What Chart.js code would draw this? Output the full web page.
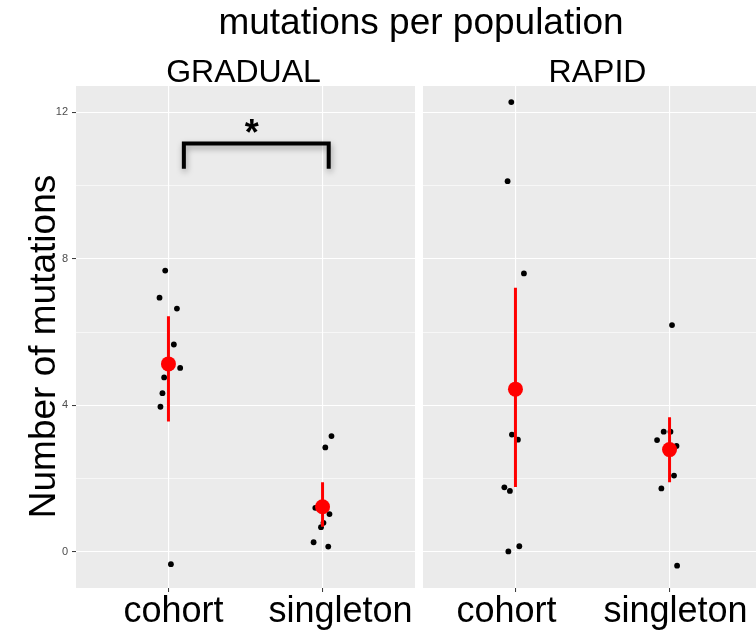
<!DOCTYPE html>
<html>
<head>
<meta charset="utf-8">
<script src="https://cdn.jsdelivr.net/npm/chart.js@4.4.1/dist/chart.umd.min.js"></script>
<style>
  html, body { margin: 0; padding: 0; background: #ffffff; overflow: hidden; }
  #wrap { position: relative; width: 756px; height: 632px; overflow: hidden; }
  #wrap canvas { position: absolute; left: 0; top: 0; }
</style>
</head>
<body>
<div id="wrap">
  <canvas id="gradual" width="780" height="632"></canvas>
  <canvas id="rapid" width="780" height="632"></canvas>
</div>
<script>
// ---- data -------------------------------------------------------------
const categories = ['cohort', 'singleton'];
const panelNames = ['GRADUAL', 'RAPID'];
const chartTitle = 'mutations per population';
const yTitle = 'Number of mutations';
const yTickValues = [0, 2, 4, 6, 8, 10, 12];

// per-population mutation counts, as plotted (with jitter)
const gradualCohortY      = [7.68, 6.94, 6.64, 5.66, 5.02, 4.76, 4.33, 3.96, -0.34];
const gradualCohortJit    = [-0.021, -0.058, 0.055, 0.035, 0.076, -0.028, -0.039, -0.052, 0.016];
const gradualSingletonY   = [3.16, 2.85, 1.20, 1.03, 0.79, 0.67, 0.26, 0.14];
const gradualSingletonJit = [0.058, 0.018, -0.047, 0.045, 0.006, -0.010, -0.058, 0.037];
const rapidCohortY        = [12.28, 10.12, 7.60, 3.20, 3.06, 1.76, 1.66, 0.15, 0.01];
const rapidCohortJit      = [-0.027, -0.051, 0.055, -0.023, 0.016, -0.072, -0.036, 0.025, -0.046];
const rapidSingletonY     = [6.19, 3.28, 3.28, 3.05, 2.89, 2.08, 1.73, -0.38];
const rapidSingletonJit   = [0.016, -0.038, 0.006, -0.081, 0.045, 0.029, -0.053, 0.049];

// group means with interval ends (cohort, singleton)
const gradualMean = [5.13, 1.23];
const gradualLow  = [3.56, 0.68];
const gradualHigh = [6.43, 1.90];
const rapidMean   = [4.44, 2.79];
const rapidLow    = [1.77, 1.90];
const rapidHigh   = [7.21, 3.67];

// significance bracket between the GRADUAL groups
const bracketX = [1.10, 1.10, 2.04, 2.04];
const bracketY = [10.46, 11.15, 11.15, 10.46];
const starLabel = { x: 1.54, y: 11.15, text: '*' };

// ---- helpers ----------------------------------------------------------
const FONT = "'Liberation Sans', Arial, Helvetica, sans-serif";
const Y_MIN = -0.99, Y_MAX = 12.72;

function pointsFor(groups) {
  const out = [];
  groups.forEach((g, ci) => {
    g.y.forEach((v, i) => out.push({ x: ci + 1 + g.jit[i], y: v }));
  });
  return out;
}
function intervalSegments(low, high) {
  const out = [];
  low.forEach((lo, i) => {
    out.push({ x: i + 1, y: lo }, { x: i + 1, y: high[i] }, { x: i + 1.5, y: null });
  });
  return out;
}
function meanPoints(mean) {
  return mean.map((m, i) => ({ x: i + 1, y: m }));
}

const panelBg = {
  id: 'panelBg',
  beforeDraw(chart) {
    const { ctx, chartArea: a } = chart;
    ctx.save();
    ctx.fillStyle = '#EBEBEB';
    ctx.fillRect(a.left, a.top, a.right - a.left, a.bottom - a.top);
    ctx.restore();
  }
};

const bracketShadow = {
  id: 'bracketShadow',
  beforeDatasetDraw(chart, args) {
    if (chart.data.datasets[args.index].isBracket) {
      const ctx = chart.ctx;
      ctx.save();
      ctx.shadowColor = 'rgba(0,0,0,0.35)';
      ctx.shadowBlur = 6;
      ctx.shadowOffsetX = 1;
      ctx.shadowOffsetY = 3;
    }
  },
  afterDatasetDraw(chart, args) {
    if (chart.data.datasets[args.index].isBracket) chart.ctx.restore();
  }
};

// strip labels, overall title, axis titles/labels and the significance star
const texts = {
  id: 'texts',
  afterDraw(chart, args, opts) {
    const { ctx, chartArea: a } = chart;
    const xs = chart.scales.x, ys = chart.scales.y;
    ctx.save();
    ctx.fillStyle = '#000';
    ctx.textAlign = 'center';
    ctx.textBaseline = 'alphabetic';
    ctx.font = '32px ' + FONT;
    ctx.fillText(opts.strip, (a.left + a.right) / 2 + opts.stripShift, 82);
    if (opts.title) {
      ctx.font = '37px ' + FONT;
      ctx.fillText(opts.title, 421, 34);
    }
    if (opts.yTitle) {
      ctx.save();
      ctx.translate(55, 346.5);
      ctx.rotate(-Math.PI / 2);
      ctx.font = '37px ' + FONT;
      ctx.fillText(opts.yTitle, 0, 0);
      ctx.restore();
    }
    // category labels under the x ticks
    ctx.font = '36px ' + FONT;
    xs.ticks.forEach((t, i) => {
      ctx.fillText(categories[i], xs.getPixelForValue(t.value) + opts.labelNudge[i], 621.5);
    });
    if (opts.star) {
      ctx.font = 'bold 36px ' + FONT;
      ctx.fillText(opts.star.text, xs.getPixelForValue(opts.star.x), ys.getPixelForValue(opts.star.y) + 2);
    }
    ctx.restore();
  }
};

function makePanel(id, cfg) {
  const datasets = [];
  if (cfg.bracket) {
    datasets.push({
      type: 'line', isBracket: true,
      data: cfg.bracket.x.map((x, i) => ({ x, y: cfg.bracket.y[i] })),
      borderColor: '#000', borderWidth: 4, pointRadius: 0,
      borderCapStyle: 'butt', borderJoinStyle: 'miter', tension: 0, fill: false
    });
  }
  datasets.push({
    type: 'scatter', data: meanPoints(cfg.mean),
    pointRadius: 7.5, pointBackgroundColor: '#FF0000', pointBorderWidth: 0, borderColor: '#FF0000'
  });
  datasets.push({
    type: 'line', data: intervalSegments(cfg.low, cfg.high),
    borderColor: '#FF0000', borderWidth: 3, pointRadius: 0, spanGaps: false,
    borderCapStyle: 'butt', tension: 0, fill: false
  });
  datasets.push({
    type: 'scatter', data: pointsFor(cfg.groups),
    pointRadius: 2.9, pointBackgroundColor: '#000', pointBorderWidth: 0, borderColor: '#000'
  });

  return new Chart(document.getElementById(id), {
    data: { datasets },
    plugins: [panelBg, bracketShadow, texts],
    options: {
      responsive: false,
      animation: false,
      events: [],
      layout: { padding: { top: 86, left: cfg.padLeft, right: cfg.padRight, bottom: 0 } },
      plugins: {
        legend: { display: false },
        tooltip: { enabled: false },
        texts: {
          strip: cfg.strip, stripShift: cfg.stripShift, title: cfg.title,
          yTitle: cfg.showY ? yTitle : null, star: cfg.star, labelNudge: cfg.labelNudge
        }
      },
      scales: {
        x: {
          type: 'linear', min: 0.4, max: 2.6,
          afterBuildTicks: s => { s.ticks = categories.map((c, i) => ({ value: i + 1 })); },
          afterFit: s => { s.height = 44; },
          border: { display: false },
          grid: { color: '#FFFFFF', lineWidth: 1.1, tickColor: '#333333', tickLength: 4, tickWidth: 1 },
          ticks: { display: false }
        },
        y: {
          type: 'linear', min: Y_MIN, max: Y_MAX,
          afterBuildTicks: s => { s.ticks = yTickValues.map(v => ({ value: v })); },
          afterFit: s => { s.width = cfg.showY ? 76 : 0; },
          border: { display: false },
          grid: {
            color: '#FFFFFF',
            lineWidth: c => (c.tick && c.tick.value % 4 === 0) ? 1.1 : 0.6,
            drawTicks: cfg.showY,
            tickColor: c => (c.tick && c.tick.value % 4 === 0) ? '#333333' : 'rgba(0,0,0,0)',
            tickLength: 4, tickWidth: 1
          },
          ticks: {
            display: cfg.showY, padding: 4,
            color: '#4D4D4D', font: { family: FONT, size: 11 },
            callback: v => (v % 4 === 0 ? String(v) : '')
          },
          title: { display: false }
        }
      }
    }
  });
}

makePanel('gradual', {
  strip: panelNames[0], stripShift: -2, title: chartTitle, showY: true, padLeft: 0, padRight: 780 - 415,
  labelNudge: [5, 18],
  groups: [{ y: gradualCohortY, jit: gradualCohortJit }, { y: gradualSingletonY, jit: gradualSingletonJit }],
  mean: gradualMean, low: gradualLow, high: gradualHigh,
  bracket: { x: bracketX, y: bracketY }, star: starLabel
});
makePanel('rapid', {
  strip: panelNames[1], stripShift: 5, title: null, showY: false, padLeft: 423, padRight: 780 - 762,
  labelNudge: [-9, 6],
  groups: [{ y: rapidCohortY, jit: rapidCohortJit }, { y: rapidSingletonY, jit: rapidSingletonJit }],
  mean: rapidMean, low: rapidLow, high: rapidHigh,
  bracket: null, star: null
});
</script>
</body>
</html>
